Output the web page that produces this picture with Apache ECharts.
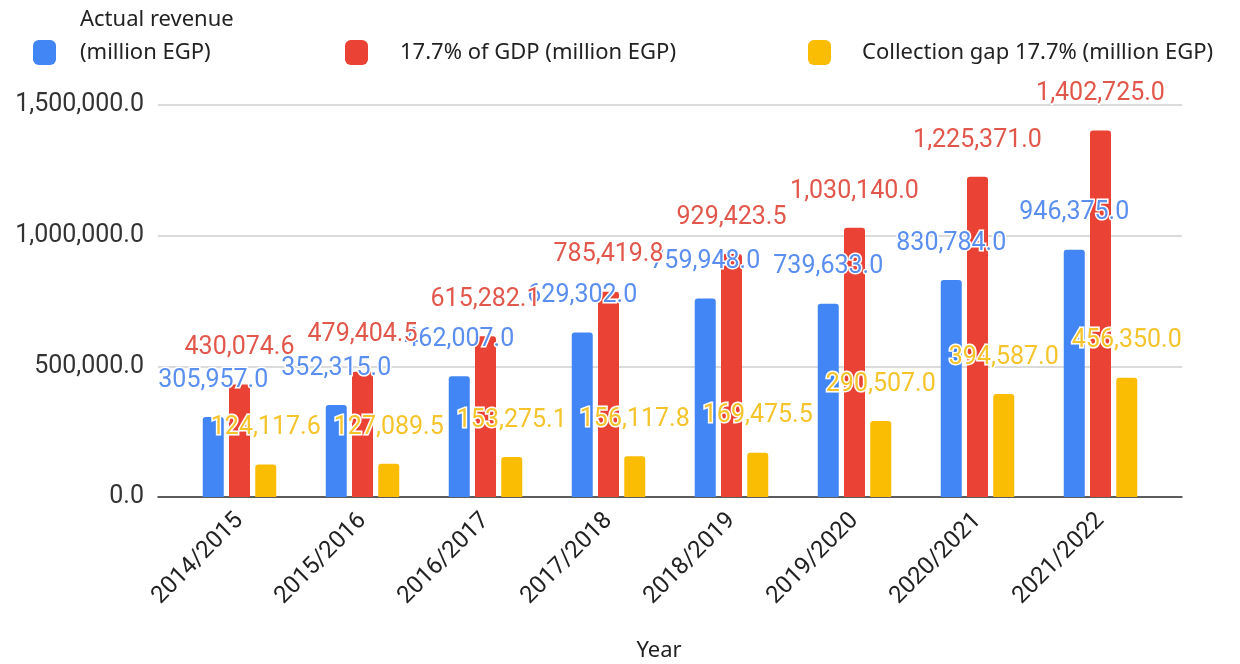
<!DOCTYPE html>
<html>
<head>
<meta charset="utf-8">
<title>Revenue vs 17.7% of GDP</title>
<script src="https://cdn.jsdelivr.net/npm/echarts@6/dist/echarts.min.js"></script>
<style>
  html, body { margin: 0; padding: 0; background: #fff; }
  #chart { width: 1240px; height: 664px; }
</style>
</head>
<body>
<div id="chart"></div>
<script>
// Fiscal years on the category axis
const years = ['2014/2015', '2015/2016', '2016/2017', '2017/2018', '2018/2019', '2019/2020', '2020/2021', '2021/2022'];

// Series names
const nameActual = 'Actual revenue (million EGP)';
const nameGdp = '17.7% of GDP (million EGP)';
const nameGap = 'Collection gap 17.7% (million EGP)';

// Values in million EGP
const actualRevenue = [305957.0, 352315.0, 462007.0, 629302.0, 759948.0, 739633.0, 830784.0, 946375.0];
const gdpShare = [430074.6, 479404.5, 615282.1, 785419.8, 929423.5, 1030140.0, 1225371.0, 1402725.0];
const collectionGap = [124117.6, 127089.5, 153275.1, 156117.8, 169475.5, 290507.0, 394587.0, 456350.0];

// Value axis ticks
const yMin = 0;
const yMax = 1500000;
const yStep = 500000;

const fmt = v => Number(v).toLocaleString('en-US', { minimumFractionDigits: 1, maximumFractionDigits: 1 });

const numFont = 'Roboto, Arial, sans-serif';
const textFont = '"Noto Sans", sans-serif';

function barSeries(name, data, color, labelColor) {
  return {
    name: name,
    type: 'bar',
    xAxisIndex: 1,
    yAxisIndex: 1,
    data: data,
    barWidth: 21,
    barGap: '25%',
    itemStyle: { color: color, borderRadius: [3, 3, 0, 0] },
    label: {
      show: true,
      position: 'top',
      distance: 24,
      formatter: p => fmt(p.value),
      color: labelColor,
      fontFamily: numFont,
      fontSize: 25,
      textBorderColor: '#fff',
      textBorderWidth: 3
    }
  };
}

function legendFor(name, left, pad, text) {
  return {
    data: [name],
    left: left,
    top: 40,
    padding: 0,
    orient: 'horizontal',
    icon: 'roundRect',
    itemWidth: 23,
    itemHeight: 25,
    selectedMode: false,
    formatter: text ? () => text : undefined,
    textStyle: {
      fontFamily: textFont,
      fontSize: 22,
      color: '#222',
      padding: [0, 0, 0, pad]
    }
  };
}

const chart = echarts.init(document.getElementById('chart'), null, { renderer: 'canvas' });

chart.setOption({
  backgroundColor: '#fff',
  animation: false,
  legend: [
    legendFor(nameActual, 33, 19, '(million EGP)'),
    legendFor(nameGdp, 345, 27),
    legendFor(nameGap, 808, 26)
  ],
  graphic: [{
    type: 'text',
    left: 80,
    top: 9,
    style: {
      text: 'Actual revenue',
      fontFamily: textFont,
      fontSize: 22,
      fill: '#222'
    }
  }],
  grid: [
    // wide frame: gridlines, value labels and baseline
    { left: 158, right: 58, top: 105, bottom: 167, outerBoundsMode: 'none', containLabel: false },
    // inner band area holding the bars
    { left: 178, right: 78, top: 105, bottom: 167, outerBoundsMode: 'none', containLabel: false }
  ],
  xAxis: [
    {
      gridIndex: 0,
      type: 'value',
      min: 0,
      max: 1,
      axisLine: { show: true, lineStyle: { color: '#333', width: 1.5 } },
      axisTick: { show: false },
      axisLabel: { show: false },
      splitLine: { show: false }
    },
    {
      gridIndex: 1,
      type: 'category',
      data: years,
      axisLine: { show: false },
      axisTick: { show: false },
      axisLabel: {
        rotate: 45,
        margin: 20,
        fontFamily: numFont,
        fontSize: 24,
        color: '#222'
      },
      name: 'Year',
      nameLocation: 'middle',
      nameGap: 143,
      nameTextStyle: {
        fontFamily: textFont,
        fontSize: 22,
        color: '#222',
        padding: [0, 22, 0, 0]
      }
    }
  ],
  yAxis: [
    {
      gridIndex: 0,
      type: 'value',
      min: yMin,
      max: yMax,
      interval: yStep,
      axisLine: { show: false },
      axisTick: { show: false },
      axisLabel: {
        margin: 14,
        formatter: v => fmt(v),
        fontFamily: numFont,
        fontSize: 25,
        color: '#333'
      },
      splitLine: { lineStyle: { color: '#cfcfcf', width: 1.5 } }
    },
    {
      gridIndex: 1,
      type: 'value',
      min: yMin,
      max: yMax,
      interval: yStep,
      show: false,
      splitLine: { show: false }
    }
  ],
  series: [
    barSeries(nameActual, actualRevenue, '#4285f4', '#5a8eef'),
    barSeries(nameGdp, gdpShare, '#ea4335', '#e2574b'),
    barSeries(nameGap, collectionGap, '#fbbc04', '#f5c42c')
  ]
});
</script>
</body>
</html>
